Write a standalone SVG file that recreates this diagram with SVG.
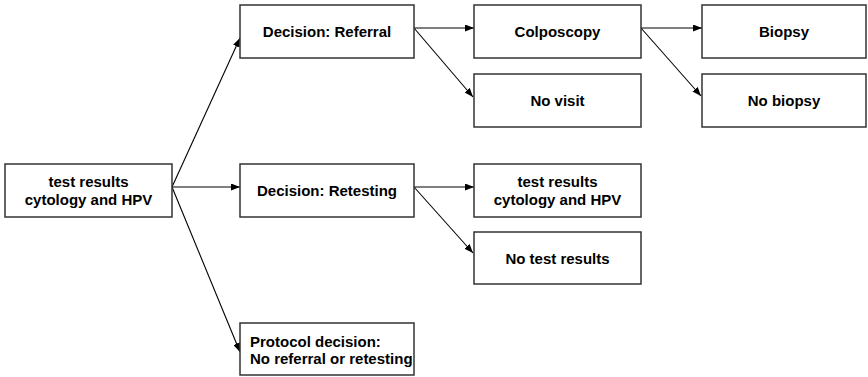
<svg xmlns="http://www.w3.org/2000/svg" width="868" height="377" viewBox="0 0 868 377">
  <style>
    .box { fill: #ffffff; stroke: #333333; stroke-width: 1.5; }
    .lbl { font-family: "Liberation Sans", Arial, sans-serif; font-size: 15px; font-weight: bold; fill: #000000; }
    .mid { text-anchor: middle; }
    .edge { stroke: #000000; stroke-width: 1.1; fill: none; marker-end: url(#arrow); }
  </style>
  <defs>
    <marker id="arrow" viewBox="0 0 9 7" refX="9" refY="3.5" markerWidth="9" markerHeight="7" markerUnits="userSpaceOnUse" orient="auto">
      <path d="M0,0 L9,3.5 L0,7 Z" fill="#000000"/>
    </marker>
  </defs>
  <rect width="868" height="377" fill="#ffffff"/>

  <g id="connectors">
    <line class="edge" x1="172" y1="187" x2="240" y2="38"/>
    <line class="edge" x1="172" y1="187" x2="240" y2="187"/>
    <line class="edge" x1="172" y1="187" x2="240" y2="352"/>
    <line class="edge" x1="414" y1="28" x2="474" y2="28"/>
    <line class="edge" x1="414" y1="28" x2="473" y2="97"/>
    <line class="edge" x1="641" y1="28" x2="702" y2="28"/>
    <line class="edge" x1="641" y1="28" x2="701" y2="96"/>
    <line class="edge" x1="414" y1="187" x2="474" y2="187"/>
    <line class="edge" x1="414" y1="187" x2="473" y2="253"/>
  </g>

  <g id="test-results">
    <rect class="box" x="5" y="164" width="167" height="53"/>
    <text class="lbl mid" x="88.5" y="187">test results</text>
    <text class="lbl mid" x="88.5" y="205">cytology and HPV</text>
  </g>

  <g id="decision-referral">
    <rect class="box" x="240" y="5" width="174" height="53"/>
    <text class="lbl mid" x="327" y="37">Decision: Referral</text>
  </g>

  <g id="colposcopy">
    <rect class="box" x="474" y="5" width="167" height="53"/>
    <text class="lbl mid" x="557.5" y="37">Colposcopy</text>
  </g>

  <g id="no-visit">
    <rect class="box" x="474" y="74" width="167" height="53"/>
    <text class="lbl mid" x="557.5" y="106">No visit</text>
  </g>

  <g id="biopsy">
    <rect class="box" x="702" y="5" width="164" height="53"/>
    <text class="lbl mid" x="784" y="37">Biopsy</text>
  </g>

  <g id="no-biopsy">
    <rect class="box" x="702" y="74" width="164" height="53"/>
    <text class="lbl mid" x="784" y="106">No biopsy</text>
  </g>

  <g id="decision-retesting">
    <rect class="box" x="240" y="164" width="174" height="53"/>
    <text class="lbl mid" x="327" y="196">Decision: Retesting</text>
  </g>

  <g id="retest-results">
    <rect class="box" x="474" y="164" width="167" height="53"/>
    <text class="lbl mid" x="557.5" y="187">test results</text>
    <text class="lbl mid" x="557.5" y="205">cytology and HPV</text>
  </g>

  <g id="no-test-results">
    <rect class="box" x="474" y="232" width="167" height="52"/>
    <text class="lbl mid" x="557.5" y="263.5">No test results</text>
  </g>

  <g id="protocol-decision">
    <rect class="box" x="240" y="323" width="174" height="52"/>
    <text class="lbl" x="250" y="347">Protocol decision:</text>
    <text class="lbl" x="250" y="364">No referral or retesting</text>
  </g>
</svg>
